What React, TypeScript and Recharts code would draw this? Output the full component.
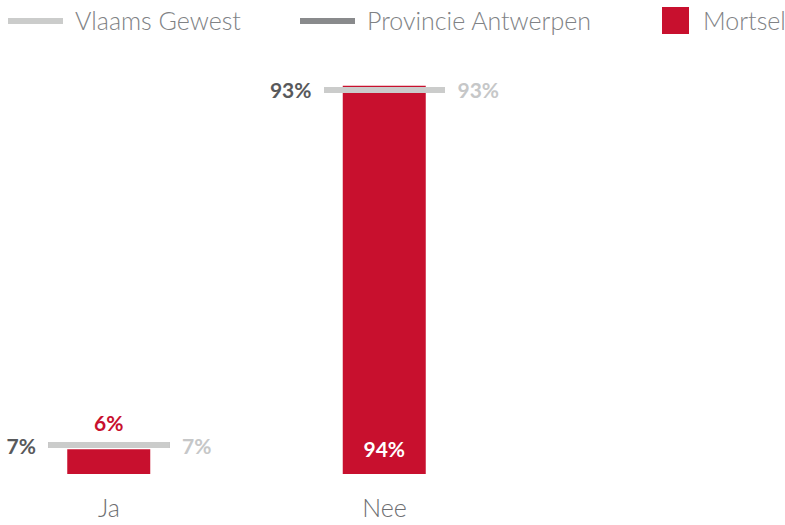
import { ComposedChart, Bar, Line, XAxis, YAxis, LabelList } from 'recharts'

const categories = ['Ja', 'Nee']
const mortsel = [6, 94]
const vlaamsGewest = [7, 93]
const provincieAntwerpen = [7, 93]

const RED = '#c8102e'
const LIGHT = '#cbcccb'
const DARK = '#898a8c'
const FONT = 'Lato, "Noto Sans", sans-serif'

const data = categories.map((name, i) => ({
  name,
  mortsel: mortsel[i],
  vlaams: vlaamsGewest[i],
  provincie: provincieAntwerpen[i],
}))

const legendItems = [
  { label: 'Vlaams Gewest', color: LIGHT, kind: 'line', x: 8, textX: 75 },
  { label: 'Provincie Antwerpen', color: DARK, kind: 'line', x: 300, textX: 367 },
  { label: 'Mortsel', color: RED, kind: 'square', x: 662, textX: 703 },
]

function Marker(props: any, color: string, side: 'left' | 'right', labelColor: string) {
  const { cx, cy, value, index } = props
  if (cx == null || cy == null) return <g key={`m-${side}-${index}`} />
  const half = 60.5
  return (
    <g key={`m-${side}-${index}`}>
      <line x1={cx - half} x2={cx + half} y1={cy} y2={cy} stroke={color} strokeWidth={6} />
      <text
        x={side === 'left' ? cx - 73 : cx + 73}
        y={cy}
        textAnchor={side === 'left' ? 'end' : 'start'}
        dominantBaseline="central"
        fill={labelColor}
        fontSize={21}
        fontWeight={700}
        fontFamily={FONT}
      >
        {`${value}%`}
      </text>
    </g>
  )
}

function BarLabel(props: any) {
  const { x, y, width, height, value } = props
  const cx = x + width / 2
  const inside = height > 60
  return (
    <text
      x={cx}
      y={inside ? y + height - 26 : y - 27}
      textAnchor="middle"
      dominantBaseline="central"
      fill={inside ? '#ffffff' : RED}
      fontSize={21}
      fontWeight={700}
      fontFamily={FONT}
    >
      {`${value}%`}
    </text>
  )
}

function Tick(props: any) {
  const { x, y, payload } = props
  return (
    <text x={x} y={y + 35} textAnchor="middle" fill="#6d6e71" fontSize={25} fontWeight={300} fontFamily={FONT}>
      {payload.value}
    </text>
  )
}

export default function App() {
  return (
    <div style={{ position: 'absolute', left: 0, top: 0, width: 785, height: 525, background: '#fff' }}>
      {legendItems.map((item) => (
        <div key={item.label}>
          {item.kind === 'line' ? (
            <div
              style={{ position: 'absolute', left: item.x, top: 18, width: 55, height: 6, background: item.color }}
            />
          ) : (
            <div style={{ position: 'absolute', left: item.x, top: 7, width: 27, height: 27, background: item.color }} />
          )}
          <div
            style={{
              position: 'absolute',
              left: item.textX,
              top: 4,
              fontFamily: FONT,
              fontWeight: 300,
              fontSize: 25,
              lineHeight: '32px',
              color: '#808285',
              whiteSpace: 'nowrap',
            }}
          >
            {item.label}
          </div>
        </div>
      ))}
      <ComposedChart
        width={785}
        height={525}
        data={data}
        margin={{ top: 61, right: 262.75, bottom: 21, left: -28.75 }}
        style={{ position: 'absolute', left: 0, top: 0 }}
      >
        <XAxis dataKey="name" axisLine={false} tickLine={false} height={30} tick={<Tick />} interval={0} />
        <YAxis hide domain={[0, 100]} />
        <Bar dataKey="mortsel" fill={RED} barSize={83} isAnimationActive={false}>
          <LabelList dataKey="mortsel" content={<BarLabel />} />
        </Bar>
        <Line
          dataKey="provincie"
          stroke="none"
          isAnimationActive={false}
          activeDot={false}
          dot={(p: any) => Marker(p, DARK, 'left', '#58595b')}
        />
        <Line
          dataKey="vlaams"
          stroke="none"
          isAnimationActive={false}
          activeDot={false}
          dot={(p: any) => Marker(p, LIGHT, 'right', '#c6c7c8')}
        />
      </ComposedChart>
    </div>
  )
}
